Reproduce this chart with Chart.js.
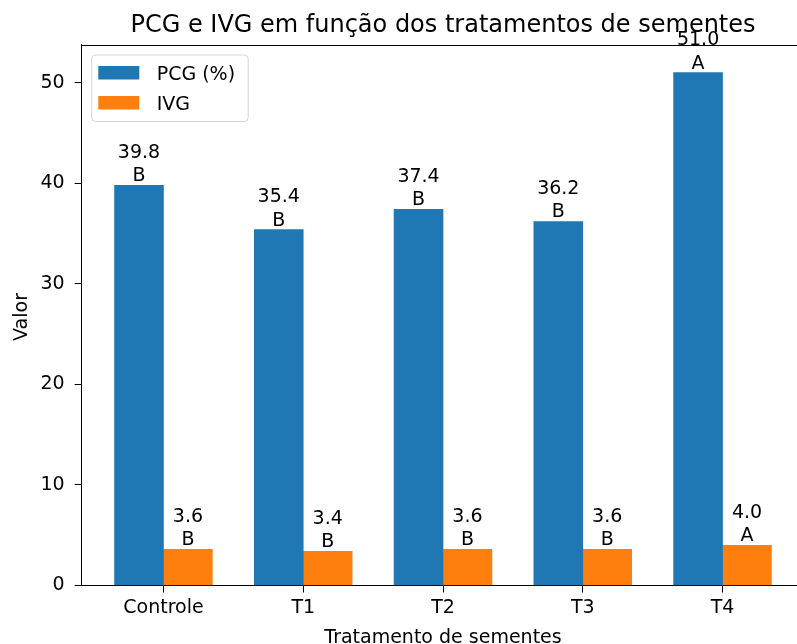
<!DOCTYPE html>
<html>
<head>
<meta charset="utf-8">
<script src="https://cdn.jsdelivr.net/npm/chart.js@4"></script>
<style>
html, body { margin: 0; padding: 0; overflow: hidden; background: #fff; }
#wrap { width: 797px; height: 644px; overflow: hidden; position: relative; }
canvas { display: block; }
</style>
</head>
<body>
<div id="wrap"><canvas id="c" width="830" height="644"></canvas></div>
<script>
// ---- data ----
const categories = ['Controle', 'T1', 'T2', 'T3', 'T4'];
const pcgValues = [39.8, 35.4, 37.4, 36.2, 51.0];
const ivgValues = [3.6, 3.4, 3.6, 3.6, 4.0];
const pcgLetters = ['B', 'B', 'B', 'B', 'A'];
const ivgLetters = ['B', 'B', 'B', 'B', 'A'];
const yTicks = [0, 10, 20, 30, 40, 50];
const seriesNames = ['PCG (%)', 'IVG'];
const titleText = 'PCG e IVG em função dos tratamentos de sementes';
const xTitle = 'Tratamento de sementes';
const yTitle = 'Valor';

const BLUE = '#1f77b4', ORANGE = '#ff7f0e';
const FONT = "'DejaVu Sans', sans-serif";
const HALF = 0.175; // half bar width in category units

const letters = [pcgLetters, ivgLetters];

const decorPlugin = {
  id: 'decor',
  afterDraw(chart) {
    const ctx = chart.ctx;
    const a = chart.chartArea;
    ctx.save();
    // top & right spines
    ctx.strokeStyle = '#000';
    ctx.lineWidth = 1;
    ctx.beginPath();
    ctx.moveTo(a.left, Math.round(a.top) + 0.5);
    ctx.lineTo(a.right, Math.round(a.top) + 0.5);
    ctx.stroke();
    ctx.beginPath();
    ctx.moveTo(Math.round(a.right) + 0.5, a.top);
    ctx.lineTo(Math.round(a.right) + 0.5, a.bottom);
    ctx.stroke();

    // bar labels
    ctx.fillStyle = '#000';
    ctx.font = '19px ' + FONT;
    ctx.textAlign = 'center';
    ctx.textBaseline = 'alphabetic';
    chart.data.datasets.forEach((ds, di) => {
      const meta = chart.getDatasetMeta(di);
      meta.data.forEach((el, i) => {
        const v = ds.data[i].y;
        ctx.fillText(letters[di][i], el.x, el.y - 4);
        ctx.fillText(v.toFixed(1), el.x, el.y - 27.3);
      });
    });

    // title
    const cx = (a.left + a.right) / 2;
    ctx.font = '24px ' + FONT;
    ctx.fillText(titleText, cx, 31.7);

    // x title
    ctx.font = '19px ' + FONT;
    ctx.fillText(xTitle, cx, 643);

    // y title
    ctx.save();
    ctx.translate(26.5, 317);
    ctx.rotate(-Math.PI / 2);
    ctx.fillText(yTitle, 0, 0);
    ctx.restore();

    // legend
    const lx = a.left + 10, ly = a.top + 10.5, lw = 156.5, lh = 66.5, r = 4;
    ctx.beginPath();
    ctx.moveTo(lx + r, ly);
    ctx.lineTo(lx + lw - r, ly);
    ctx.arcTo(lx + lw, ly, lx + lw, ly + r, r);
    ctx.lineTo(lx + lw, ly + lh - r);
    ctx.arcTo(lx + lw, ly + lh, lx + lw - r, ly + lh, r);
    ctx.lineTo(lx + r, ly + lh);
    ctx.arcTo(lx, ly + lh, lx, ly + lh - r, r);
    ctx.lineTo(lx, ly + r);
    ctx.arcTo(lx, ly, lx + r, ly, r);
    ctx.closePath();
    ctx.fillStyle = 'rgba(255,255,255,0.8)';
    ctx.fill();
    ctx.strokeStyle = 'rgba(204,204,204,0.8)';
    ctx.lineWidth = 1;
    ctx.stroke();
    const colors = [BLUE, ORANGE];
    seriesNames.forEach((name, k) => {
      const py = ly + 11 + k * 30;
      ctx.fillStyle = colors[k];
      ctx.fillRect(lx + 6.6, py, 41, 13.5);
      ctx.fillStyle = '#000';
      ctx.textAlign = 'left';
      ctx.font = '19px ' + FONT;
      ctx.fillText(name, lx + 65, py + 13.6);
    });
    ctx.restore();
  }
};

const chart = new Chart(document.getElementById('c'), {
  type: 'bar',
  data: {
    datasets: [
      {
        label: seriesNames[0],
        data: categories.map((c, i) => ({ x: i - HALF, y: pcgValues[i] })),
        backgroundColor: BLUE,
        borderWidth: 0
      },
      {
        label: seriesNames[1],
        data: categories.map((c, i) => ({ x: i + HALF, y: ivgValues[i] })),
        backgroundColor: ORANGE,
        borderWidth: 0
      }
    ]
  },
  options: {
    responsive: false,
    devicePixelRatio: 1,
    animation: false,
    grouped: false,
    barPercentage: 1,
    categoryPercentage: 1,
    layout: { padding: { top: 44.5, right: 25.7, left: 0, bottom: 0 } },
    plugins: { legend: { display: false }, title: { display: false }, tooltip: { enabled: false } },
    scales: {
      x: {
        type: 'linear',
        offset: false,
        min: -0.585,
        max: 4.585,
        afterBuildTicks: s => { s.ticks = categories.map((c, i) => ({ value: i })); },
        afterFit: s => { s.height = 58.5; },
        ticks: {
          callback: v => categories[v],
          font: { family: FONT, size: 19 },
          color: '#000',
          padding: 4,
          maxRotation: 0,
          autoSkip: false
        },
        grid: { display: true, offset: false, drawOnChartArea: false, drawTicks: true, tickLength: 7, color: '#000', lineWidth: 1 },
        border: { display: true, color: '#000', width: 1 }
      },
      y: {
        min: 0,
        max: 53.8,
        afterBuildTicks: s => { s.ticks = yTicks.map(v => ({ value: v })); },
        afterFit: s => { s.width = 81.7; },
        ticks: {
          font: { family: FONT, size: 19 },
          color: '#000',
          padding: 10
        },
        grid: { display: true, drawOnChartArea: false, drawTicks: true, tickLength: 7, color: '#000', lineWidth: 1 },
        border: { display: true, color: '#000', width: 1 }
      }
    }
  },
  plugins: [decorPlugin]
});
</script>
</body>
</html>
